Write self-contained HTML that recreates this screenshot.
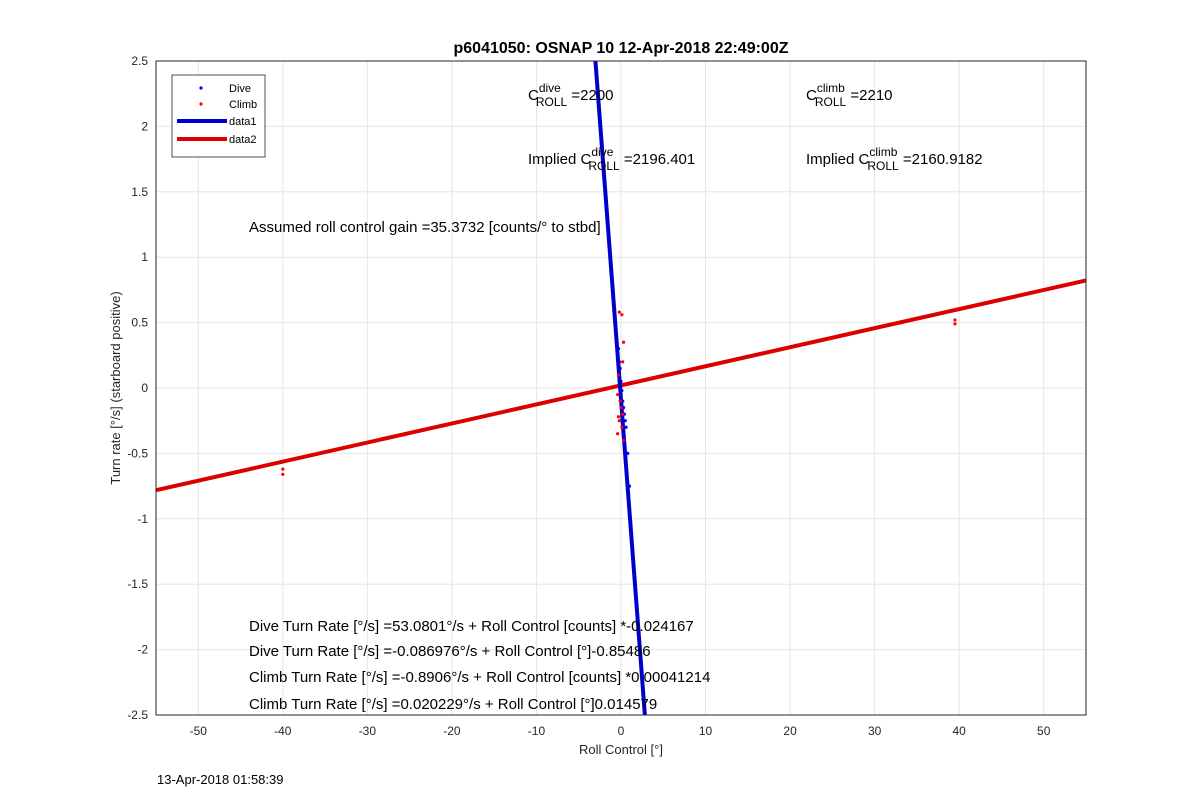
<!DOCTYPE html>
<html><head><meta charset="utf-8"><style>
body{margin:0;background:#fff;}
svg{font-family:"Liberation Sans",Arial,sans-serif;}
</style></head><body>
<svg id="chart" width="1200" height="804" viewBox="0 0 1200 804" xmlns="http://www.w3.org/2000/svg">
<rect width="1200" height="804" fill="#fff"/>
<g id="grid"></g>
<g id="ticks" font-size="12" fill="#262626"></g>
<g id="marks"></g>
<rect x="156" y="61" width="930" height="654" fill="none" stroke="#262626" stroke-width="1"/>
<text x="621" y="53" text-anchor="middle" font-size="16" font-weight="bold" fill="#000">p6041050: OSNAP 10 12-Apr-2018 22:49:00Z</text>
<text x="621" y="754" text-anchor="middle" font-size="13" fill="#262626">Roll Control [°]</text>
<text transform="translate(120,388) rotate(-90)" text-anchor="middle" font-size="13" fill="#262626">Turn rate [°/s] (starboard positive)</text>
<text x="157" y="784" font-size="13" fill="#000">13-Apr-2018 01:58:39</text>
<g font-size="15" fill="#000">
<text x="528" y="100">C<tspan font-size="12" dy="-8">dive</tspan><tspan font-size="12" dx="-25" dy="14">ROLL</tspan><tspan dy="-6"> =2200</tspan></text>
<text x="806" y="100">C<tspan font-size="12" dy="-8">climb</tspan><tspan font-size="12" dx="-30" dy="14">ROLL</tspan><tspan dy="-6"> =2210</tspan></text>
<text x="528" y="164">Implied C<tspan font-size="12" dy="-8">dive</tspan><tspan font-size="12" dx="-25" dy="14">ROLL</tspan><tspan dy="-6"> =2196.401</tspan></text>
<text x="806" y="164">Implied C<tspan font-size="12" dy="-8">climb</tspan><tspan font-size="12" dx="-30" dy="14">ROLL</tspan><tspan dy="-6"> =2160.9182</tspan></text>
<text x="249" y="232">Assumed roll control gain =35.3732 [counts/° to stbd]</text>
<text x="249" y="631">Dive Turn Rate [°/s] =53.0801°/s + Roll Control [counts] *-0.024167</text>
<text x="249" y="656">Dive Turn Rate [°/s] =-0.086976°/s + Roll Control [°]-0.85486</text>
<text x="249" y="682">Climb Turn Rate [°/s] =-0.8906°/s + Roll Control [counts] *0.00041214</text>
<text x="249" y="709">Climb Turn Rate [°/s] =0.020229°/s + Roll Control [°]0.014579</text>
</g>
<g>
<rect x="172" y="75" width="93" height="82" fill="#fff" stroke="#262626" stroke-width="0.8"/>
<circle cx="201" cy="88" r="1.6" fill="#0000ff"/>
<text x="229" y="92" font-size="11">Dive</text>
<circle cx="201" cy="104" r="1.6" fill="#ff0000"/>
<text x="229" y="108" font-size="11">Climb</text>
<line x1="177" y1="121" x2="227" y2="121" stroke="#0000cc" stroke-width="4"/>
<text x="229" y="125" font-size="11">data1</text>
<line x1="177" y1="139" x2="227" y2="139" stroke="#dd0000" stroke-width="4"/>
<text x="229" y="143" font-size="11">data2</text>
</g>
</svg>
<script>
const xTicks=[-50,-40,-30,-20,-10,0,10,20,30,40,50];
const yTicks=[-2.5,-2,-1.5,-1,-0.5,0,0.5,1,1.5,2,2.5];
const diveFit=[-0.086976,-0.85486];
const climbFit=[0.020229,0.014579];
const diveX=[-0.3,-0.2,-0.1,0,0.1,0.2,0.3,0.4,0.5,0.6,0.8,1.0];
const diveY=[0.3,0.2,0.15,0.05,-0.02,-0.1,-0.15,-0.2,-0.25,-0.3,-0.5,-0.75];
const climbX=[-40,-40,-0.2,0.1,0.3,0.2,-0.3,-0.4,-0.1,0,0.2,-0.3,-0.2,0.1,-0.4,0.3,39.5,39.5,39.7];
const climbY=[-0.62,-0.66,0.58,0.56,0.35,0.2,0.1,-0.05,-0.1,-0.15,-0.2,-0.22,-0.25,-0.3,-0.35,-0.4,0.52,0.49,0.6];
const X0=-55,X1=55,Y0=-2.5,Y1=2.5,L=156,R=1086,T=61,B=715;
const sx=v=>L+(v-X0)/(X1-X0)*(R-L);
const sy=v=>B-(v-Y0)/(Y1-Y0)*(B-T);
const NS="http://www.w3.org/2000/svg";
function mk(tag,attrs,parent){const e=document.createElementNS(NS,tag);for(const k in attrs)e.setAttribute(k,attrs[k]);document.getElementById(parent).appendChild(e);return e;}
xTicks.forEach(v=>{
 const g=mk('line',{x1:sx(v),x2:sx(v),y1:T,y2:B,stroke:'#e6e6e6'},'grid');
 
 
 const t=mk('text',{x:sx(v),y:B+20,'text-anchor':'middle'},'ticks');t.textContent=v;
 
 
});
yTicks.forEach(v=>{
 const g=mk('line',{x1:L,x2:R,y1:sy(v),y2:sy(v),stroke:'#e6e6e6'},'grid');
 
 
 const t=mk('text',{x:L-8,y:sy(v)+4,'text-anchor':'end'},'ticks');t.textContent=v;
 
 
});
// fit lines clipped to plot
function fitLine(fit,color,name){
 let xa=X0,xb=X1;
 const f=x=>fit[0]+fit[1]*x;
 if(fit[1]!==0){const xs=[(Y0-fit[0])/fit[1],(Y1-fit[0])/fit[1]].sort((a,b)=>a-b);xa=Math.max(X0,xs[0]);xb=Math.min(X1,xs[1]);}
 const l=mk('line',{x1:sx(xa),y1:sy(f(xa)),x2:sx(xb),y2:sy(f(xb)),stroke:color,'stroke-width':4},'marks');
 
 
}
diveX.forEach((x,i)=>{const c=mk('circle',{cx:sx(x),cy:sy(diveY[i]),r:1.6,fill:'#0000ff'},'marks');
 
 });
fitLine(climbFit,'#dd0000','climb-fit-line');
fitLine(diveFit,'#0000cc','dive-fit-line');
climbX.forEach((x,i)=>{const c=mk('circle',{cx:sx(x),cy:sy(climbY[i]),r:1.6,fill:'#ff0000'},'marks');
 
 });
</script>
</body></html>
